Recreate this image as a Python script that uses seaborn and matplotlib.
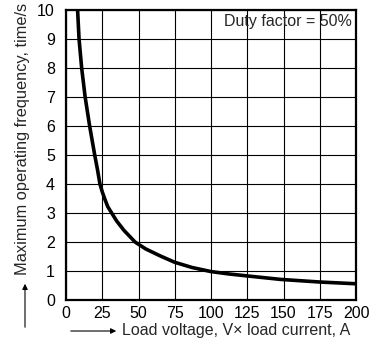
import matplotlib
matplotlib.use('Agg')
import matplotlib.pyplot as plt
import seaborn as sns
import pandas as pd

# values
load_va = [8, 9, 10.8, 13.2, 16.3, 19.8, 21.7, 23.4, 25, 27, 28.8, 31.5, 35,
           40, 47.6, 55, 65, 75, 87, 100, 112, 125, 148, 175, 200]
max_freq = [10, 9, 8, 7, 6, 5, 4.5, 4, 3.73, 3.45, 3.22, 3.0, 2.72, 2.4,
            2.0, 1.76, 1.52, 1.30, 1.12, 0.98, 0.9, 0.83, 0.71, 0.62, 0.56]
x_ticks = [0, 25, 50, 75, 100, 125, 150, 175, 200]
y_ticks = [0, 1, 2, 3, 4, 5, 6, 7, 8, 9, 10]
note = 'Duty factor = 50%'

sns.set_style('white')
plt.rcParams['font.family'] = ['Liberation Sans', 'DejaVu Sans']
fs = 11.5

df = pd.DataFrame({'va': load_va, 'freq': max_freq})

fig = plt.figure(figsize=(3.79, 3.43), dpi=100)
ax = fig.add_axes([66 / 379, 1 - 300 / 343, 290 / 379, 290 / 343])

sns.lineplot(data=df, x='va', y='freq', ax=ax, color='black', linewidth=2.6,
             sort=False, zorder=3)
ax.lines[0].set_solid_joinstyle('round')

ax.set_xlim(0, 200)
ax.set_ylim(0, 10)
ax.set_xticks(x_ticks)
ax.set_yticks(y_ticks)
ax.tick_params(length=0, labelsize=fs, colors='black')
ax.tick_params(axis='y', pad=8)
ax.tick_params(axis='x', pad=4)
ax.grid(True, color='black', linewidth=0.8)
for s in ax.spines.values():
    s.set_visible(True)
    s.set_color('black')
    s.set_linewidth(1.6)
ax.set_xlabel('')
ax.set_ylabel('')

ax.text(197.5, 9.6, note, ha='right', va='center', fontsize=fs)

# axis labels with arrows, as in the original
fig.text(23 / 379, 1 - 139 / 343, 'Maximum operating frequency, time/s',
         rotation=90, ha='center', va='center', fontsize=11.8)
fig.text(122 / 379, 1 - 331 / 343, 'Load voltage, V\u00d7 load current, A',
         ha='left', va='center', fontsize=fs)
fig.add_artist(matplotlib.patches.FancyArrowPatch(
    (68 / 379, 1 - 331 / 343), (119 / 379, 1 - 331 / 343),
    transform=fig.transFigure, arrowstyle='-|>', mutation_scale=8,
    color='black', linewidth=0.8))
fig.add_artist(matplotlib.patches.FancyArrowPatch(
    (25 / 379, 1 - 330 / 343), (25 / 379, 1 - 281 / 343),
    transform=fig.transFigure, arrowstyle='-|>', mutation_scale=8,
    color='black', linewidth=0.8))

fig.savefig('out.png', dpi=100)
